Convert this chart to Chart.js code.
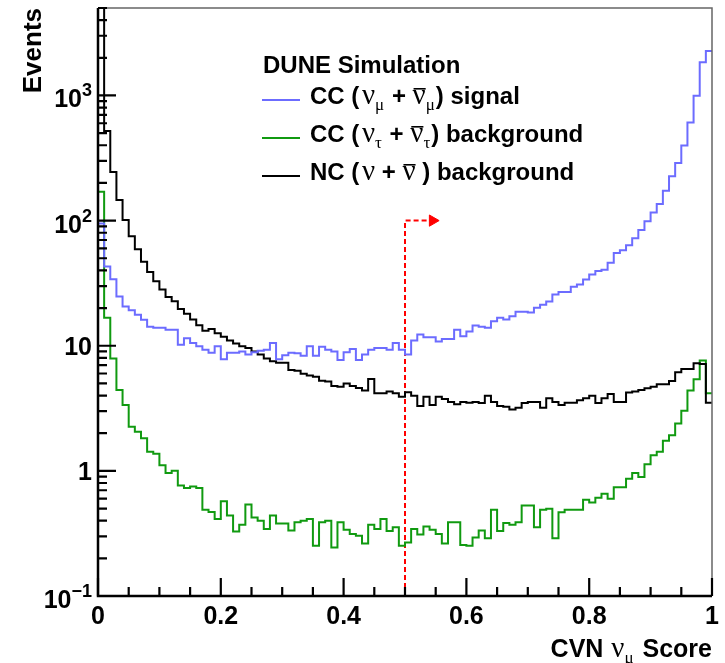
<!DOCTYPE html>
<html>
<head>
<meta charset="utf-8">
<title>CVN numu score</title>
<script src="https://cdn.jsdelivr.net/npm/chart.js@4.4.1/dist/chart.umd.min.js"></script>
<style>
    html, body { margin: 0; padding: 0; background: #fff; }
    #wrap { width: 725px; height: 663px; }
</style>
</head>
<body>
<div id="wrap"><canvas id="cvnChart" width="725" height="663"></canvas></div>
<script>
// 分箱
const nBins = 100;
const xLow = 0;
const xHigh = 1;

// CC (numu + numubar) signal
const signalNuMu = [
    95, 43, 34, 24.7, 20.6, 19.2, 17.7, 16.1, 14.2, 13.9,
    13.9, 13.4, 13.4, 10.2, 11.5, 10.5, 9.9, 9.3, 8.8, 9.9,
    7.8, 8.8, 8.8, 9.0, 8.5, 8.85, 9.1, 9.3, 10.5, 7.8,
    8.4, 8.8, 8.7, 8.3, 9.9, 8.3, 9.8, 9.3, 9.0, 7.7,
    8.85, 9.4, 7.7, 8.5, 9.3, 9.6, 9.6, 9.3, 10.5, 9.3,
    8.5, 11.0, 12.3, 11.7, 11.7, 10.8, 11.3, 11.3, 13.4, 11.9,
    13.0, 14.5, 14.2, 13.9, 15.7, 16.7, 16.2, 17.2, 18.7, 18.7,
    18.4, 20.1, 21.3, 22.6, 25.7, 26.9, 26.9, 29.6, 30.9, 33.9,
    37.1, 39.5, 40.5, 46.1, 55, 58, 63.5, 72.3, 84.3, 98.6,
    116, 136, 173, 226, 288, 399, 607, 995, 1841, 2270
];

// CC (nutau + nutaubar) background
const bkgNuTau = [
    170, 16.7, 7.9, 4.43, 3.36, 2.25, 2.05, 1.82, 1.42, 1.37,
    1.11, 0.96, 1.0, 0.765, 0.73, 0.75, 0.73, 0.488, 0.47, 0.413,
    0.571, 0.44, 0.327, 0.371, 0.538, 0.423, 0.40, 0.343, 0.44, 0.38,
    0.38, 0.333, 0.388, 0.40, 0.413, 0.252, 0.388, 0.40, 0.244, 0.388,
    0.338, 0.313, 0.303, 0.263, 0.371, 0.343, 0.413, 0.33, 0.355, 0.252,
    0.268, 0.343, 0.31, 0.36, 0.338, 0.313, 0.263, 0.388, 0.388, 0.256,
    0.252, 0.294, 0.333, 0.29, 0.488, 0.33, 0.384, 0.371, 0.388, 0.528,
    0.528, 0.355, 0.488, 0.497, 0.29, 0.466, 0.488, 0.488, 0.488, 0.587,
    0.56, 0.61, 0.656, 0.6, 0.741, 0.741, 0.866, 0.96, 0.892, 1.13,
    1.33, 1.42, 1.74, 1.93, 2.39, 3.02, 4.38, 5.4, 7.62, 4.17
];

// NC (nu + nubar) background
const bkgNC = [
    5000, 520, 244, 146, 101, 75, 59, 47, 38.8, 32.8,
    28.2, 24.5, 22.7, 19.7, 18.0, 16.2, 14.6, 13.2, 13.6, 12.6,
    11.8, 11.0, 10.4, 9.9, 9.6, 9.0, 8.5, 7.9, 7.5, 7.3,
    7.3, 6.4, 6.3, 5.96, 5.77, 5.66, 5.26, 5.17, 4.77, 4.7,
    5.0, 4.77, 4.6, 4.38, 5.43, 4.17, 4.17, 4.3, 4.17, 3.92,
    4.25, 3.99, 3.3, 3.92, 3.36, 3.92, 3.75, 3.55, 3.4, 3.55,
    3.5, 3.55, 3.48, 3.99, 3.55, 3.3, 3.26, 3.1, 3.2, 3.48,
    3.55, 3.55, 3.2, 3.8, 3.55, 3.36, 3.5, 3.5, 3.67, 3.8,
    3.99, 3.48, 3.8, 4.11, 3.55, 3.55, 4.22, 4.3, 4.43, 4.57,
    4.7, 4.92, 4.92, 5.23, 6.15, 6.53, 6.53, 7.26, 7.16, 3.5
];

// 坐标轴刻度
const xMajorTicks = [0, 0.2, 0.4, 0.6, 0.8, 1];
const xTickLabels = ['0', '0.2', '0.4', '0.6', '0.8', '1'];
const xMinorStep = 0.05;
const yMajorTicks = [0.1, 1, 10, 100, 1000];
const yTickBase = ['10', '1', '10', '10', '10'];
const yTickExp = ['\u22121', '', '', '2', '3'];
const yMin = 0.1;
const yMax = 5000;

// 选择切割 (cut at 0.5, arrow to the right)
const cutX = [0.5, 0.5, 0.545];
const cutY = [0.1, 100, 100];

const BOLD = '"Liberation Sans", Arial, Helvetica, sans-serif';
const GREEK = '"Liberation Serif", "DejaVu Serif", serif';

// 直方图转为阶梯线的点
function histPoints(values) {
    const w = (xHigh - xLow) / nBins;
    const pts = values.map((v, i) => ({ x: xLow + i * w, y: v }));
    pts.push({ x: xHigh, y: values[values.length - 1] });
    return pts;
}

// 混排文本 (上下标、上划线)
function richWidth(ctx, parts) {
    let w = 0;
    parts.forEach(p => { ctx.font = p.font; w += ctx.measureText(p.t).width + (p.pad || 0); });
    return w;
}

function drawRich(ctx, x, y, parts) {
    let cx = x;
    parts.forEach(p => {
        ctx.font = p.font;
        const w = ctx.measureText(p.t).width;
        ctx.fillText(p.t, cx, y + (p.dy || 0));
        if (p.bar) {
            ctx.fillRect(cx + 1, y - 16, w - 1, 1.6);
        }
        cx += w + (p.pad || 0);
    });
    return cx;
}

function nuParts(sub, bar) {
    const parts = [{ t: '\u03bd', font: '29px ' + GREEK, bar: bar }];
    if (sub) parts.push({ t: sub, font: '17px ' + GREEK, dy: 6, pad: 1 });
    return parts;
}

const legendRows = [
    { color: '#6c6cff', parts: [].concat(
        [{ t: 'CC ( ', font: 'bold 24px ' + BOLD, pad: -4 }], nuParts('\u03bc', false),
        [{ t: ' + ', font: 'bold 24px ' + BOLD }], nuParts('\u03bc', true),
        [{ t: ') signal', font: 'bold 24px ' + BOLD }]) },
    { color: '#109a10', parts: [].concat(
        [{ t: 'CC ( ', font: 'bold 24px ' + BOLD, pad: -4 }], nuParts('\u03c4', false),
        [{ t: ' + ', font: 'bold 24px ' + BOLD }], nuParts('\u03c4', true),
        [{ t: ') background', font: 'bold 24px ' + BOLD }]) },
    { color: '#000000', parts: [].concat(
        [{ t: 'NC ( ', font: 'bold 24px ' + BOLD, pad: -4 }], nuParts('', false),
        [{ t: ' + ', font: 'bold 24px ' + BOLD }], nuParts('', true),
        [{ t: ' ) background', font: 'bold 24px ' + BOLD, pad: 0 }]) }
];

// ROOT 风格的坐标轴、标签和图例
const rootStyle = {
    id: 'rootStyle',
    afterDraw(chart) {
        const { ctx, chartArea: a } = chart;
        const xs = chart.scales.x;
        const ys = chart.scales.y;
        ctx.save();

        // 上、右边框
        ctx.strokeStyle = '#666';
        ctx.lineWidth = 1.5;
        ctx.beginPath();
        ctx.moveTo(a.left, a.top);
        ctx.lineTo(a.right, a.top);
        ctx.lineTo(a.right, a.bottom);
        ctx.stroke();

        // 左、下坐标轴
        ctx.strokeStyle = '#000';
        ctx.lineWidth = 2.5;
        ctx.beginPath();
        ctx.moveTo(a.left, a.top);
        ctx.lineTo(a.left, a.bottom);
        ctx.lineTo(a.right, a.bottom);
        ctx.stroke();

        // y 刻度 (向内)
        ctx.lineWidth = 2.2;
        ctx.beginPath();
        yMajorTicks.forEach(d => {
            for (let k = 1; k <= 9; k++) {
                const v = k * d;
                if (v > yMax) break;
                const py = ys.getPixelForValue(v);
                ctx.moveTo(a.left, py);
                ctx.lineTo(a.left + (k === 1 ? 18 : 9), py);
            }
        });
        // x 刻度 (向内)
        const nx = Math.round((xHigh - xLow) / xMinorStep);
        for (let i = 0; i <= nx; i++) {
            const px = xs.getPixelForValue(xLow + i * xMinorStep);
            ctx.moveTo(px, a.bottom);
            ctx.lineTo(px, a.bottom - (i % 4 === 0 ? 18 : 9));
        }
        ctx.stroke();

        // 刻度标签
        ctx.fillStyle = '#000';
        ctx.textBaseline = 'alphabetic';
        ctx.font = 'bold 25px ' + BOLD;
        ctx.textAlign = 'center';
        xMajorTicks.forEach((v, i) => {
            ctx.fillText(xTickLabels[i], xs.getPixelForValue(v), a.bottom + 28);
        });

        ctx.textAlign = 'left';
        yMajorTicks.forEach((v, i) => {
            const py = ys.getPixelForValue(v);
            const right = a.left - 6;
            if (yTickExp[i]) {
                ctx.font = 'bold 18px ' + BOLD;
                const ew = ctx.measureText(yTickExp[i]).width;
                ctx.fillText(yTickExp[i], right - ew, py + 1);
                ctx.font = 'bold 25px ' + BOLD;
                const bw = ctx.measureText(yTickBase[i]).width;
                ctx.fillText(yTickBase[i], right - ew - bw, py + 12);
            } else {
                ctx.font = 'bold 25px ' + BOLD;
                const bw = ctx.measureText(yTickBase[i]).width;
                ctx.fillText(yTickBase[i], right - bw, py + 9);
            }
        });

        // x 轴标题
        const xTitle = [
            { t: 'CVN ', font: 'bold 25px ' + BOLD, pad: 1 },
            { t: '\u03bd', font: '29px ' + GREEK },
            { t: '\u03bc', font: '17px ' + GREEK, dy: 6, pad: 2 },
            { t: ' Score', font: 'bold 25px ' + BOLD }
        ];
        drawRich(ctx, a.right - richWidth(ctx, xTitle), 657, xTitle);

        // y 轴标题
        ctx.save();
        ctx.translate(41, a.top);
        ctx.rotate(-Math.PI / 2);
        ctx.textAlign = 'right';
        ctx.font = 'bold 26px ' + BOLD;
        ctx.fillText('Events', 0, 0);
        ctx.restore();

        // 图例
        ctx.textAlign = 'left';
        ctx.font = 'bold 24px ' + BOLD;
        ctx.fillText('DUNE Simulation', 263, 73);
        const rowBase = [104, 142, 180];
        legendRows.forEach((row, i) => {
            ctx.strokeStyle = row.color;
            ctx.lineWidth = 2;
            ctx.beginPath();
            ctx.moveTo(262, rowBase[i] - 4);
            ctx.lineTo(300, rowBase[i] - 4);
            ctx.stroke();
            ctx.fillStyle = '#000';
            drawRich(ctx, 310, rowBase[i], row.parts);
        });

        ctx.restore();
    }
};

// 初始化图表
const ctx = document.getElementById('cvnChart').getContext('2d');
new Chart(ctx, {
    type: 'line',
    data: {
        datasets: [
            {
                label: 'CC (numu + numubar) signal',
                data: histPoints(signalNuMu),
                borderColor: '#6c6cff',
                borderWidth: 2,
                stepped: 'before',
                pointRadius: 0,
                fill: false
            },
            {
                label: 'NC (nu + nubar) background',
                data: histPoints(bkgNC),
                borderColor: '#000000',
                borderWidth: 2,
                stepped: 'before',
                pointRadius: 0,
                fill: false
            },
            {
                label: 'CC (nutau + nutaubar) background',
                data: histPoints(bkgNuTau),
                borderColor: '#109a10',
                borderWidth: 2,
                stepped: 'before',
                pointRadius: 0,
                fill: false
            },
            {
                label: 'cut',
                data: cutX.map((x, i) => ({ x: x, y: cutY[i] })),
                borderColor: '#ff0000',
                backgroundColor: '#ff0000',
                borderWidth: 2,
                borderDash: [5, 3],
                pointRadius: [0, 0, 6.5],
                pointStyle: 'triangle',
                rotation: 90,
                pointBackgroundColor: '#ff0000',
                pointBorderColor: '#ff0000',
                pointBorderWidth: 1,
                fill: false
            }
        ]
    },
    options: {
        responsive: false,
        animation: false,
        devicePixelRatio: 1,
        layout: {
            padding: { left: 98, top: 8, right: 13, bottom: 67 }
        },
        plugins: {
            legend: { display: false },
            tooltip: { enabled: false }
        },
        scales: {
            x: { type: 'linear', min: xLow, max: xHigh, display: false },
            y: { type: 'logarithmic', min: yMin, max: yMax, display: false }
        }
    },
    plugins: [rootStyle]
});
</script>
</body>
</html>
